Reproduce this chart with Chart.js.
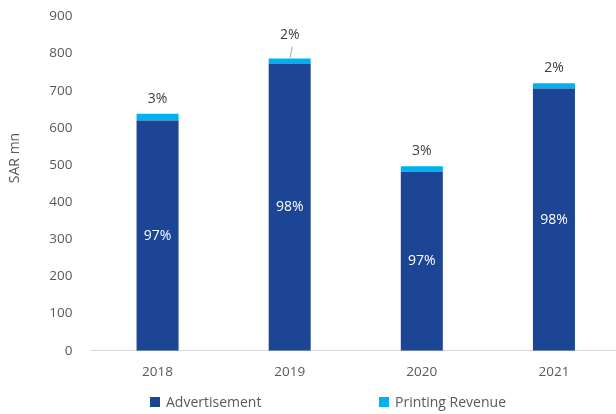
<!DOCTYPE html>
<html>
<head>
<meta charset="utf-8">
<script src="https://cdn.jsdelivr.net/npm/chart.js@4.4.1/dist/chart.umd.min.js"></script>
<style>
  html, body { margin: 0; padding: 0; background: #ffffff; overflow: hidden; }
  #wrap { width: 622px; height: 414px; }
</style>
</head>
<body>
<div id="wrap"><canvas id="revChart"></canvas></div>
<script>
// revenue split, SAR mn
const years = ['2018', '2019', '2020', '2021'];
const advertisement = [620, 772, 482, 706];
const printing = [18, 15, 15, 14];
const yTicks = [0, 100, 200, 300, 400, 500, 600, 700, 800, 900];

const DARK = '#1c4595';
const CYAN = '#00b0f0';
const TXT = '#595959';
const FONT = '"Open Sans", sans-serif';

// percentage labels: share inside the advertisement bar, share above the stack
const barLabels = {
  id: 'barLabels',
  afterDatasetsDraw(chart, args, opts) {
    const ctx = chart.ctx;
    const adv = chart.getDatasetMeta(0).data;
    const prt = chart.getDatasetMeta(1).data;
    ctx.save();
    ctx.font = '14px ' + FONT;
    ctx.textAlign = 'center';
    ctx.textBaseline = 'middle';
    years.forEach((yr, i) => {
      const total = advertisement[i] + printing[i];
      const a = adv[i], p = prt[i];
      ctx.fillStyle = '#ffffff';
      ctx.fillText(Math.round(advertisement[i] / total * 100) + '%', a.x, (a.y + a.base) / 2);
      const lift = opts.lift[i] || 0;
      const ty = p.y - 15 - lift;
      ctx.fillStyle = '#404040';
      ctx.fillText(Math.round(printing[i] / total * 100) + '%', p.x, ty);
      if (lift) {
        ctx.strokeStyle = '#a6a6a6';
        ctx.lineWidth = 1;
        ctx.beginPath();
        ctx.moveTo(p.x + 0.5, p.y - 1);
        ctx.lineTo(p.x + 2.5, ty + 11);
        ctx.stroke();
      }
    });
    ctx.restore();
  }
};

// axis title and bottom legend
const extras = {
  id: 'extras',
  afterDraw(chart) {
    const ctx = chart.ctx;
    ctx.save();
    ctx.fillStyle = TXT;
    ctx.font = '14px ' + FONT;
    ctx.textAlign = 'center';
    ctx.textBaseline = 'middle';
    ctx.translate(15, 158);
    ctx.rotate(-Math.PI / 2);
    ctx.fillText('SAR mn', 0, 0);
    ctx.restore();

    ctx.save();
    ctx.font = '14px ' + FONT;
    ctx.textBaseline = 'middle';
    ctx.textAlign = 'left';
    const y = 402;
    let x = 150;
    chart.data.datasets.forEach(ds => {
      ctx.fillStyle = ds.backgroundColor;
      ctx.fillRect(x, y - 5, 10, 10);
      ctx.fillStyle = TXT;
      ctx.fillText(ds.label, x + 16, y + 1);
      x += 229;
    });
    ctx.restore();
  }
};

new Chart(document.getElementById('revChart'), {
  type: 'bar',
  data: {
    labels: years,
    datasets: [
      { label: 'Advertisement', data: advertisement, backgroundColor: DARK, barPercentage: 0.318, categoryPercentage: 1 },
      { label: 'Printing Revenue', data: printing, backgroundColor: CYAN, barPercentage: 0.318, categoryPercentage: 1 }
    ]
  },
  options: {
    responsive: true,
    maintainAspectRatio: false,
    animation: false,
    layout: { padding: { top: 16.5, right: 2, bottom: 21, left: 0 } },
    plugins: {
      legend: { display: false },
      tooltip: { enabled: false },
      barLabels: { lift: { 1: 8 } }
    },
    scales: {
      x: {
        stacked: true,
        grid: { display: false, drawTicks: false },
        border: { color: '#d9d9d9', width: 1 },
        ticks: { color: TXT, font: { family: FONT, size: 13.5 }, padding: 13 }
      },
      y: {
        stacked: true,
        min: 0,
        max: 900,
        afterBuildTicks: s => { s.ticks = yTicks.map(v => ({ value: v })); },
        afterFit: s => { s.width = 91.5; s.paddingTop = 8; },
        grid: { display: false, drawTicks: false },
        border: { display: false },
        ticks: { color: TXT, font: { family: FONT, size: 13.5 }, padding: 19 }
      }
    }
  },
  plugins: [barLabels, extras]
});
</script>
</body>
</html>
